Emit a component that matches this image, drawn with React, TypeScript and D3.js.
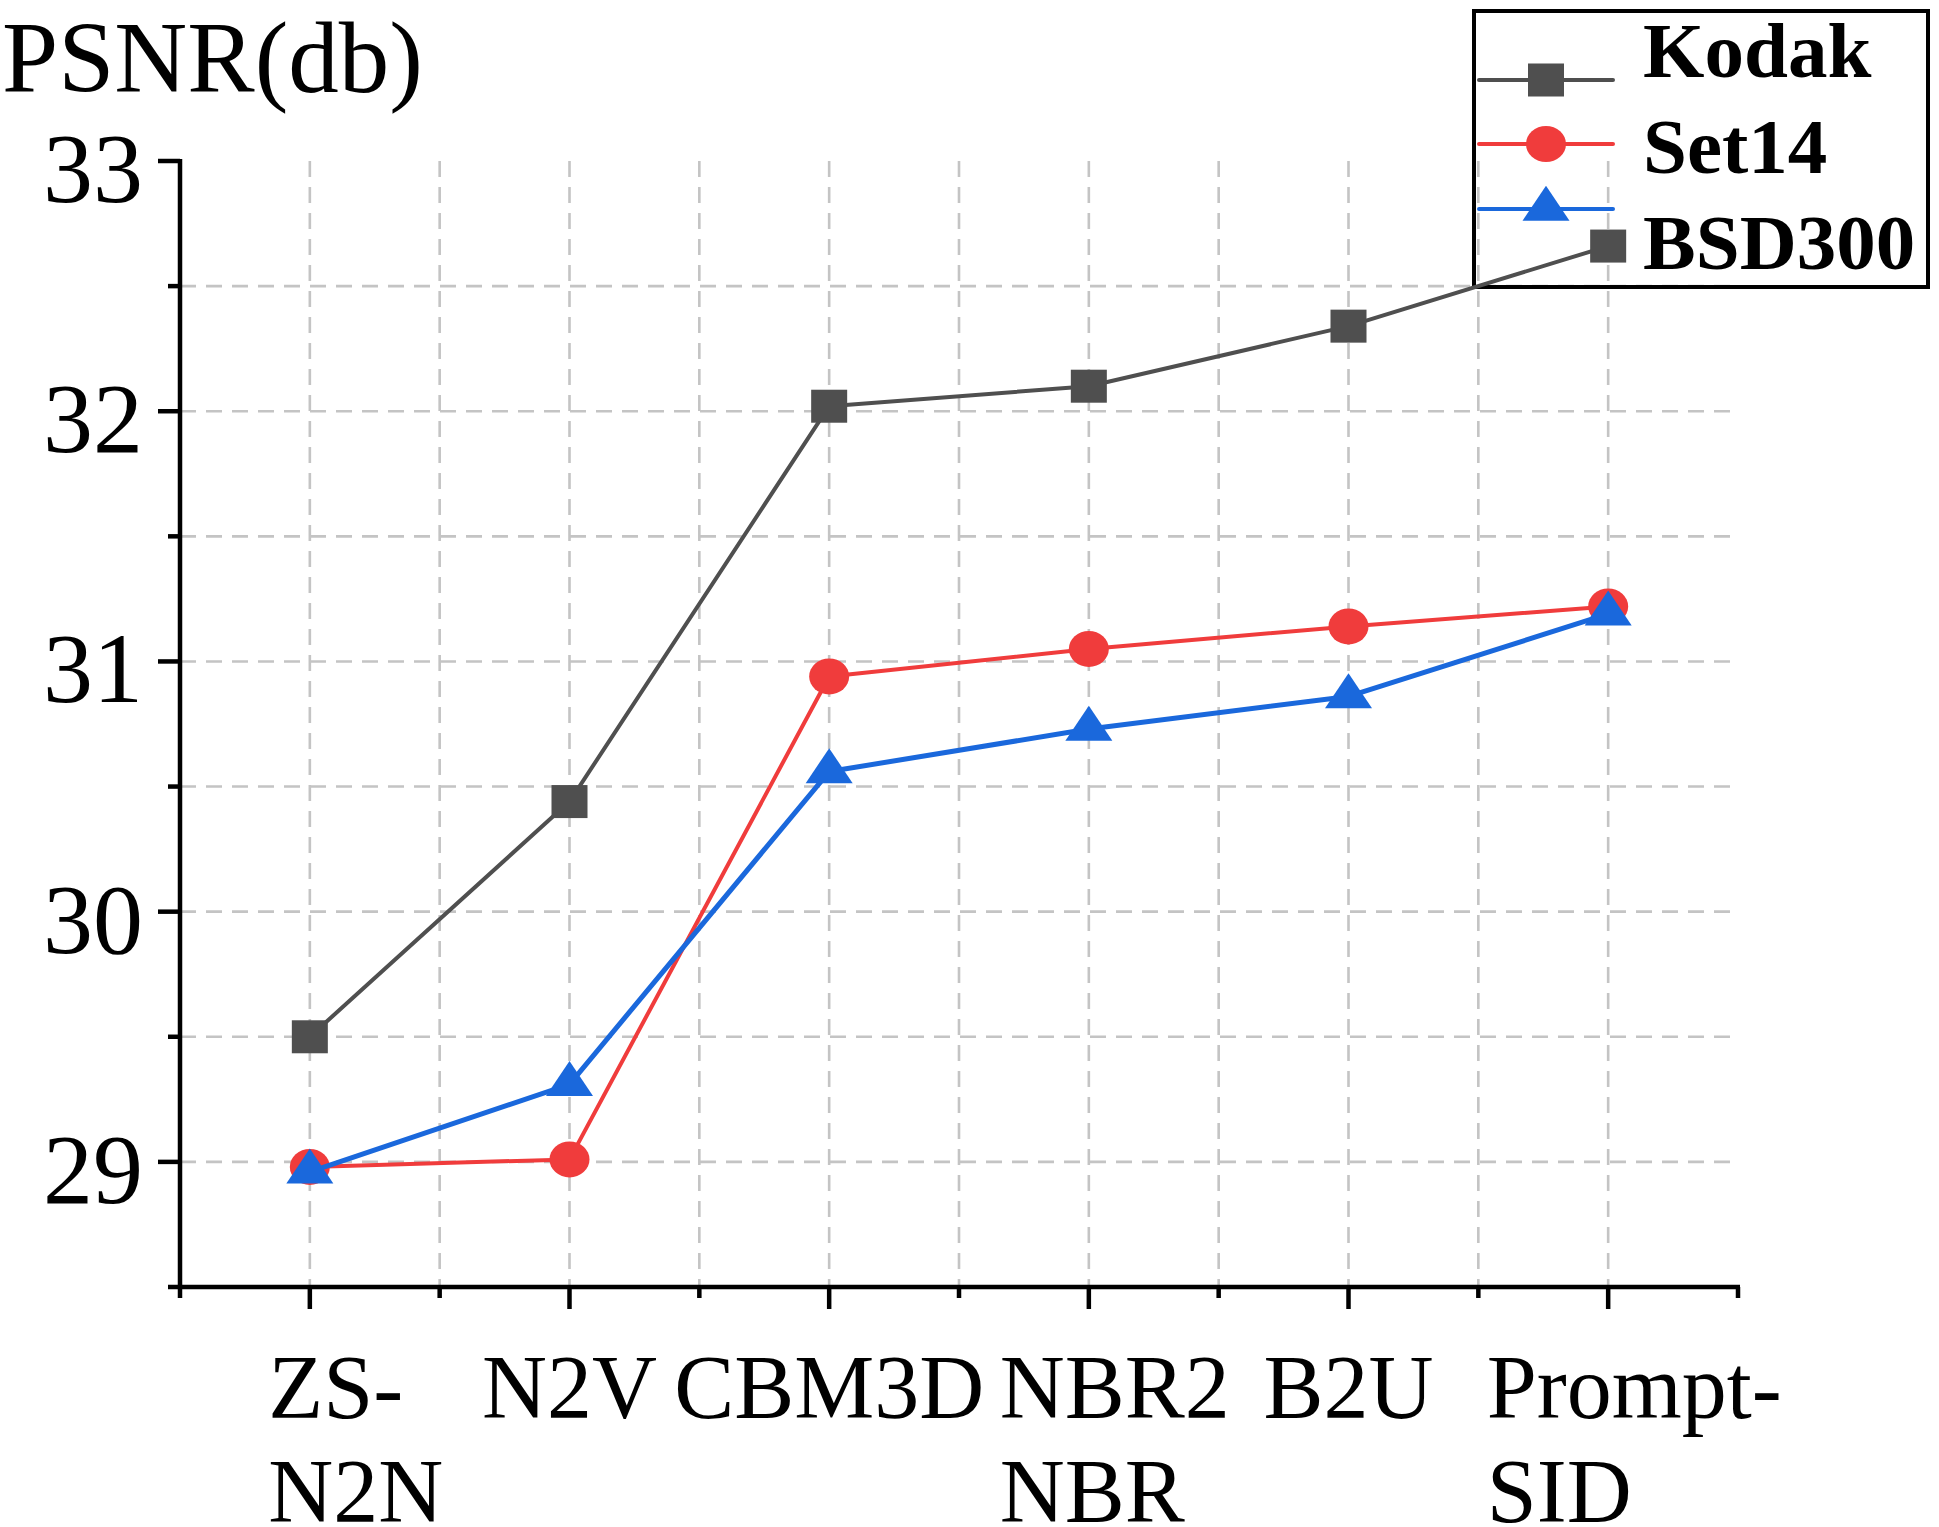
import React, { useEffect, useRef } from "react";
import * as d3 from "d3";

const categories: string[][] = [["ZS-", "N2N"], ["N2V"], ["CBM3D"], ["NBR2", "NBR"], ["B2U"], ["Prompt-", "SID"]];
const kodak = [29.5, 30.44, 32.02, 32.1, 32.34, 32.66];
const set14 = [28.98, 29.01, 30.94, 31.05, 31.14, 31.22];
const bsd300 = [28.96, 29.31, 30.56, 30.73, 30.86, 31.19];
const yMajorTicks = [29, 30, 31, 32, 33];
const yMinorTicks = [29.5, 30.5, 31.5, 32.5];
const yGridTicks = [29, 29.5, 30, 30.5, 31, 31.5, 32, 32.5];
const seriesNames = ["Kodak", "Set14", "BSD300"];

const W = 1939, H = 1527;
const FONT = "'Liberation Serif', 'Times New Roman', serif";

export default function App() {
  const ref = useRef<SVGSVGElement | null>(null);
  useEffect(() => {
    const svg = d3.select(ref.current);
    svg.selectAll("*").remove();
    const left = 180, right = 1738, top = 161, bottom = 1287;
    const idx = categories.map((_, i) => i);
    const x = d3.scalePoint<number>().domain(idx).range([left, right]).padding(0.5);
    const step = x.step();
    const y = d3.scaleLinear().domain([28.5, 33]).range([bottom, top]);

    const series = [
      { name: seriesNames[0], values: kodak, color: "#4f4f4f", shape: "square", lw: 4 },
      { name: seriesNames[1], values: set14, color: "#f03c3c", shape: "circle", lw: 4 },
      { name: seriesNames[2], values: bsd300, color: "#1a68dc", shape: "triangle", lw: 5 },
    ];

    // grid
    const grid = svg.append("g").attr("stroke", "#c4c4c4").attr("stroke-width", 2.6).attr("stroke-dasharray", "16 10");
    const vPos: number[] = [];
    for (let k = 1; k < categories.length * 2; k++) vPos.push(left + (k * step) / 2);
    grid.selectAll("line.v").data(vPos).enter().append("line")
      .attr("x1", (d) => d).attr("x2", (d) => d).attr("y1", top).attr("y2", bottom);
    grid.selectAll("line.h").data(yGridTicks).enter().append("line")
      .attr("x1", left).attr("x2", right).attr("y1", (d) => y(d)).attr("y2", (d) => y(d));

    // axes
    const ax = svg.append("g").attr("stroke", "#000").attr("stroke-width", 4.5);
    ax.append("line").attr("x1", left).attr("x2", left).attr("y1", top - 2).attr("y2", bottom + 2);
    ax.append("line").attr("x1", left - 12).attr("x2", right + 2).attr("y1", bottom).attr("y2", bottom);
    ax.selectAll("line.ym").data(yMajorTicks).enter().append("line")
      .attr("x1", left - 22).attr("x2", left).attr("y1", (d) => y(d)).attr("y2", (d) => y(d));
    ax.selectAll("line.yn").data(yMinorTicks).enter().append("line")
      .attr("x1", left - 12).attr("x2", left).attr("y1", (d) => y(d)).attr("y2", (d) => y(d));
    const xMinor: number[] = [];
    for (let k = 0; k <= categories.length; k++) xMinor.push(left + k * step);
    ax.selectAll("line.xn").data(xMinor).enter().append("line")
      .attr("x1", (d) => d).attr("x2", (d) => d).attr("y1", bottom).attr("y2", bottom + 11);
    ax.selectAll("line.xm").data(idx).enter().append("line")
      .attr("x1", (d) => x(d)!).attr("x2", (d) => x(d)!).attr("y1", bottom).attr("y2", bottom + 22);

    // y tick labels
    svg.append("g").selectAll("text").data(yMajorTicks).enter().append("text")
      .attr("x", 143).attr("y", (d) => y(d) + 41)
      .attr("text-anchor", "end").attr("font-family", FONT).attr("font-size", 100).attr("fill", "#000")
      .text((d) => String(d));

    // y title
    svg.append("text").attr("x", 2).attr("y", 92).attr("font-family", FONT).attr("font-size", 101)
      .attr("fill", "#000").text("PSNR(db)");

    // x tick labels
    const xl = svg.append("g").attr("font-family", FONT).attr("font-size", 90).attr("fill", "#000");
    categories.forEach((lines, i) => {
      const cx = x(i)!;
      if (lines.length === 1) {
        xl.append("text").attr("x", cx).attr("y", 1418).attr("text-anchor", "middle").text(lines[0]);
      } else {
        const t = xl.append("text").attr("x", 0).attr("y", 1418).text(lines[0]);
        const w = (t.node() as SVGTextElement).getComputedTextLength();
        const lx = cx + 26 - w / 2;
        t.attr("x", lx);
        xl.append("text").attr("x", lx).attr("y", 1522).text(lines[1]);
      }
    });

    const drawMarker = (g: any, shape: string, cx: number, cy: number, color: string) => {
      if (shape === "square") {
        g.append("rect").attr("x", cx - 18).attr("y", cy - 16.5).attr("width", 36).attr("height", 33).attr("fill", color);
      } else if (shape === "circle") {
        g.append("ellipse").attr("cx", cx).attr("cy", cy).attr("rx", 20).attr("ry", 18).attr("fill", color);
      } else {
        const hw = 23.5, h = 35;
        g.append("path")
          .attr("d", `M${cx},${cy - (2 * h) / 3}L${cx + hw},${cy + h / 3}L${cx - hw},${cy + h / 3}Z`)
          .attr("fill", color);
      }
    };

    // legend
    const lg = svg.append("g");
    lg.append("rect").attr("x", 1474).attr("y", 11).attr("width", 454).attr("height", 276)
      .attr("fill", "none").attr("stroke", "#000").attr("stroke-width", 4);
    const legendLineY = [80, 144, 209];
    const legendTextY = [77, 173, 269];
    series.forEach((s, i) => {
      lg.append("line").attr("x1", 1479).attr("x2", 1613).attr("y1", legendLineY[i]).attr("y2", legendLineY[i])
        .attr("stroke", s.color).attr("stroke-width", 4).attr("stroke-linecap", "round");
      drawMarker(lg, s.shape, 1546, legendLineY[i], s.color);
      lg.append("text").attr("x", 1643).attr("y", legendTextY[i]).attr("font-family", FONT)
        .attr("font-weight", "bold").attr("font-size", 79).attr("fill", "#000").text(s.name);
    });

    // series
    series.forEach((s) => {
      const g = svg.append("g");
      const line = d3.line<number>().x((_, i) => x(i)!).y((d) => y(d));
      g.append("path").attr("d", line(s.values)!).attr("fill", "none").attr("stroke", s.color)
        .attr("stroke-width", s.lw).attr("stroke-linejoin", "round");
      s.values.forEach((v, i) => drawMarker(g, s.shape, x(i)!, y(v), s.color));
    });
  }, []);

  return (
    <svg ref={ref} width={W} height={H} style={{ position: "absolute", left: 0, top: 0, background: "#fff" }} />
  );
}
